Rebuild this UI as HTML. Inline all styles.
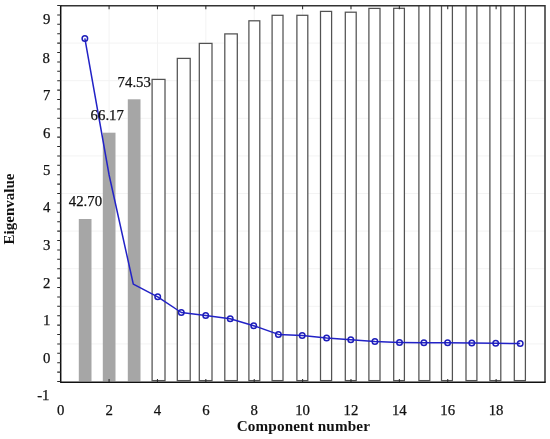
<!DOCTYPE html>
<html><head><meta charset="utf-8"><style>
html,body{margin:0;padding:0;background:#fff;width:550px;height:439px;overflow:hidden}
svg{display:block}
</style></head><body>
<svg style="will-change:transform" width="550" height="439" viewBox="0 0 550 439">
<rect width="550" height="439" fill="#fff"/>
<defs><clipPath id="cp"><rect x="60.7" y="5.85" width="484.3" height="376.45"/></clipPath></defs>
<path d="M60.70 43.10H545.00M60.70 80.70H545.00M60.70 118.30H545.00M60.70 155.90H545.00M60.70 193.50H545.00M60.70 231.10H545.00M60.70 268.70H545.00M60.70 306.30H545.00M60.70 343.90H545.00M109.08 5.85V382.30M157.46 5.85V382.30M205.84 5.85V382.30M254.22 5.85V382.30M302.60 5.85V382.30M350.98 5.85V382.30M399.36 5.85V382.30M447.74 5.85V382.30M496.12 5.85V382.30" stroke="#f3f3f3" stroke-width="1" fill="none"/>
<g clip-path="url(#cp)">
<rect x="78.80" y="219.00" width="12.70" height="162.20" fill="#a6a6a6"/>
<rect x="102.80" y="132.70" width="12.70" height="248.50" fill="#a6a6a6"/>
<rect x="127.80" y="99.30" width="12.70" height="281.90" fill="#a6a6a6"/>
<rect x="152.10" y="79.40" width="12.90" height="301.20" fill="#fff" stroke="#525252" stroke-width="1.25"/>
<rect x="177.30" y="58.40" width="12.90" height="322.20" fill="#fff" stroke="#525252" stroke-width="1.25"/>
<rect x="199.30" y="43.40" width="12.70" height="337.20" fill="#fff" stroke="#525252" stroke-width="1.25"/>
<rect x="224.80" y="33.90" width="12.50" height="346.70" fill="#fff" stroke="#525252" stroke-width="1.25"/>
<rect x="248.90" y="20.80" width="10.90" height="359.80" fill="#fff" stroke="#525252" stroke-width="1.25"/>
<rect x="272.10" y="15.30" width="10.90" height="365.30" fill="#fff" stroke="#525252" stroke-width="1.25"/>
<rect x="296.90" y="15.30" width="10.90" height="365.30" fill="#fff" stroke="#525252" stroke-width="1.25"/>
<rect x="320.50" y="11.40" width="11.10" height="369.20" fill="#fff" stroke="#525252" stroke-width="1.25"/>
<rect x="345.30" y="12.20" width="10.90" height="368.40" fill="#fff" stroke="#525252" stroke-width="1.25"/>
<rect x="368.90" y="8.40" width="11.10" height="372.20" fill="#fff" stroke="#525252" stroke-width="1.25"/>
<rect x="393.70" y="8.30" width="10.70" height="372.30" fill="#fff" stroke="#525252" stroke-width="1.25"/>
<rect x="418.90" y="2.85" width="10.90" height="377.75" fill="#fff" stroke="#525252" stroke-width="1.25"/>
<rect x="441.50" y="2.85" width="10.90" height="377.75" fill="#fff" stroke="#525252" stroke-width="1.25"/>
<rect x="466.00" y="2.85" width="10.90" height="377.75" fill="#fff" stroke="#525252" stroke-width="1.25"/>
<rect x="489.90" y="2.85" width="10.90" height="377.75" fill="#fff" stroke="#525252" stroke-width="1.25"/>
<rect x="514.30" y="2.85" width="11.10" height="377.75" fill="#fff" stroke="#525252" stroke-width="1.25"/>
</g>
<path d="M60.7 5.85H545.0V382.3" stroke="#333" stroke-width="1.5" fill="none"/>
<path d="M60.7 5.25V382.3M60.1 382.3H545.7" stroke="#111" stroke-width="1.5" fill="none"/>
<path d="M57.20 5.50H60.70M57.20 14.90H60.70M57.20 24.30H60.70M57.20 33.70H60.70M57.20 43.10H60.70M57.20 52.50H60.70M57.20 61.90H60.70M57.20 71.30H60.70M57.20 80.70H60.70M57.20 90.10H60.70M57.20 99.50H60.70M57.20 108.90H60.70M57.20 118.30H60.70M57.20 127.70H60.70M57.20 137.10H60.70M57.20 146.50H60.70M57.20 155.90H60.70M57.20 165.30H60.70M57.20 174.70H60.70M57.20 184.10H60.70M57.20 193.50H60.70M57.20 202.90H60.70M57.20 212.30H60.70M57.20 221.70H60.70M57.20 231.10H60.70M57.20 240.50H60.70M57.20 249.90H60.70M57.20 259.30H60.70M57.20 268.70H60.70M57.20 278.10H60.70M57.20 287.50H60.70M57.20 296.90H60.70M57.20 306.30H60.70M57.20 315.70H60.70M57.20 325.10H60.70M57.20 334.50H60.70M57.20 343.90H60.70M57.20 353.30H60.70M57.20 362.70H60.70M57.20 372.10H60.70M57.20 381.50H60.70M109.08 5.85v3.3M109.08 382.30v-3.3M157.46 5.85v3.3M157.46 382.30v-3.3M205.84 5.85v3.3M205.84 382.30v-3.3M254.22 5.85v3.3M254.22 382.30v-3.3M302.60 5.85v3.3M302.60 382.30v-3.3M350.98 5.85v3.3M350.98 382.30v-3.3M399.36 5.85v3.3M399.36 382.30v-3.3M447.74 5.85v3.3M447.74 382.30v-3.3M496.12 5.85v3.3M496.12 382.30v-3.3" stroke="#2a2a2a" stroke-width="1.05" fill="none"/>
<path d="M84.85 38.40L109.10 175.00L133.30 284.20L157.70 296.80L181.30 312.50L205.70 315.40L230.20 318.70L253.70 325.70L278.40 334.40L302.20 335.50L326.60 337.90L350.80 339.70L374.90 341.60L399.50 342.40L423.90 342.70L447.60 342.80L471.80 343.10L495.70 343.30L520.20 343.50" stroke="#2222c6" stroke-width="1.5" fill="none" stroke-linejoin="round"/>
<circle cx="84.85" cy="38.40" r="2.75" fill="none" stroke="#1e1eba" stroke-width="1.5"/>
<circle cx="157.70" cy="296.80" r="2.75" fill="none" stroke="#1e1eba" stroke-width="1.5"/>
<circle cx="181.30" cy="312.50" r="2.75" fill="none" stroke="#1e1eba" stroke-width="1.5"/>
<circle cx="205.70" cy="315.40" r="2.75" fill="none" stroke="#1e1eba" stroke-width="1.5"/>
<circle cx="230.20" cy="318.70" r="2.75" fill="none" stroke="#1e1eba" stroke-width="1.5"/>
<circle cx="253.70" cy="325.70" r="2.75" fill="none" stroke="#1e1eba" stroke-width="1.5"/>
<circle cx="278.40" cy="334.40" r="2.75" fill="none" stroke="#1e1eba" stroke-width="1.5"/>
<circle cx="302.20" cy="335.50" r="2.75" fill="none" stroke="#1e1eba" stroke-width="1.5"/>
<circle cx="326.60" cy="337.90" r="2.75" fill="none" stroke="#1e1eba" stroke-width="1.5"/>
<circle cx="350.80" cy="339.70" r="2.75" fill="none" stroke="#1e1eba" stroke-width="1.5"/>
<circle cx="374.90" cy="341.60" r="2.75" fill="none" stroke="#1e1eba" stroke-width="1.5"/>
<circle cx="399.50" cy="342.40" r="2.75" fill="none" stroke="#1e1eba" stroke-width="1.5"/>
<circle cx="423.90" cy="342.70" r="2.75" fill="none" stroke="#1e1eba" stroke-width="1.5"/>
<circle cx="447.60" cy="342.80" r="2.75" fill="none" stroke="#1e1eba" stroke-width="1.5"/>
<circle cx="471.80" cy="343.10" r="2.75" fill="none" stroke="#1e1eba" stroke-width="1.5"/>
<circle cx="495.70" cy="343.30" r="2.75" fill="none" stroke="#1e1eba" stroke-width="1.5"/>
<circle cx="520.20" cy="343.50" r="2.75" fill="none" stroke="#1e1eba" stroke-width="1.5"/>
<g font-family="Liberation Serif, serif" font-size="14.8" fill="#111" stroke="#111" stroke-width="0.25"><text x="49.50" y="400.40" text-anchor="end">-1</text><text x="50.30" y="362.80" text-anchor="end">0</text><text x="50.30" y="325.20" text-anchor="end">1</text><text x="50.30" y="287.60" text-anchor="end">2</text><text x="50.30" y="250.00" text-anchor="end">3</text><text x="50.30" y="212.40" text-anchor="end">4</text><text x="50.30" y="174.80" text-anchor="end">5</text><text x="50.30" y="138.20" text-anchor="end">6</text><text x="50.30" y="99.60" text-anchor="end">7</text><text x="49.90" y="62.90" text-anchor="end">8</text><text x="50.30" y="24.40" text-anchor="end">9</text><text x="60.70" y="414.7" text-anchor="middle">0</text><text x="109.08" y="414.7" text-anchor="middle">2</text><text x="157.46" y="414.7" text-anchor="middle">4</text><text x="205.84" y="414.7" text-anchor="middle">6</text><text x="254.22" y="414.7" text-anchor="middle">8</text><text x="302.60" y="414.7" text-anchor="middle">10</text><text x="350.98" y="414.7" text-anchor="middle">12</text><text x="399.36" y="414.7" text-anchor="middle">14</text><text x="447.74" y="414.7" text-anchor="middle">16</text><text x="496.12" y="414.7" text-anchor="middle">18</text><text x="68.8" y="205.5">42.70</text><text x="90.6" y="119.6">66.17</text><text x="117.6" y="86.8">74.53</text></g>
<text x="303.4" y="430.6" font-family="Liberation Serif, serif" font-size="15.2" font-weight="bold" letter-spacing="0.13" text-anchor="middle" fill="#111">Component number</text>
<text transform="translate(14.2 209) rotate(-90)" font-family="Liberation Serif, serif" font-size="15" font-weight="bold" text-anchor="middle" fill="#111">Eigenvalue</text>
</svg>
</body></html>
